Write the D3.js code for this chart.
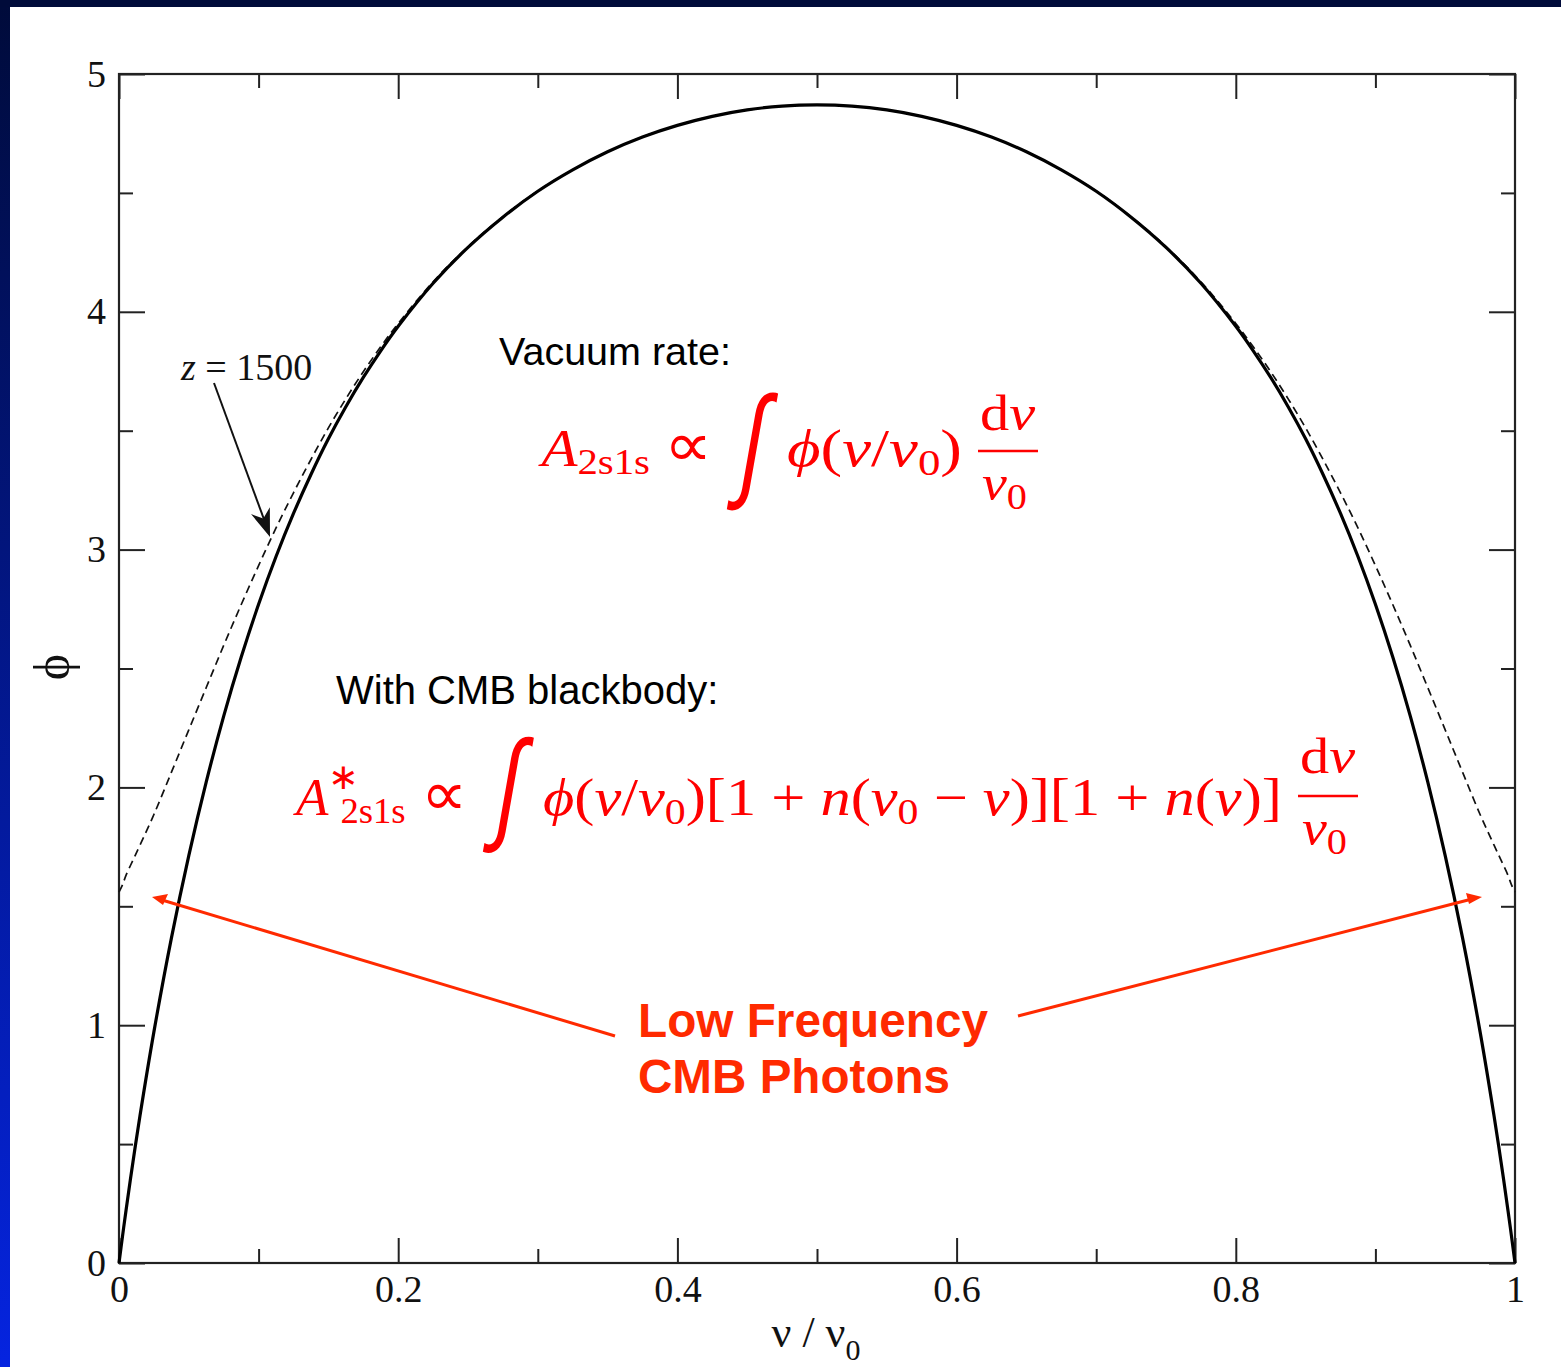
<!DOCTYPE html>
<html>
<head>
<meta charset="utf-8">
<script src="https://cdn.jsdelivr.net/npm/d3@7"></script>
<style>
  html, body { margin: 0; padding: 0; background: #fff; }
  svg { display: block; }
</style>
</head>
<body>
<svg id="chart" width="1561" height="1367"></svg>
<script>
// Two-photon 2s->1s emission profile phi(nu/nu0)
const nuRatio = [0, 0.0025, 0.005, 0.01, 0.015, 0.025, 0.0375, 0.05, 0.0625, 0.075, 0.0875, 0.1, 0.1125, 0.125,
  0.1375, 0.15, 0.1625, 0.175, 0.1875, 0.2, 0.225, 0.25, 0.275, 0.3, 0.325, 0.35, 0.375, 0.4, 0.425, 0.45, 0.475,
  0.5,
  0.525, 0.55, 0.575, 0.6, 0.625, 0.65, 0.675, 0.7, 0.725, 0.75, 0.775, 0.8, 0.8125, 0.825, 0.8375, 0.85, 0.8625,
  0.875, 0.8875, 0.9, 0.9125, 0.925, 0.9375, 0.95, 0.9625, 0.975, 0.985, 0.99, 0.995, 0.9975, 1];
// vacuum profile (solid)
const phiVacuum = [0, 0.112, 0.220, 0.425, 0.618, 0.972, 1.365, 1.713, 2.023, 2.300, 2.547, 2.770, 2.971, 3.152,
  3.316, 3.466, 3.601, 3.724, 3.836, 3.939, 4.120, 4.271, 4.398, 4.507, 4.597, 4.673, 4.735, 4.784, 4.822, 4.849,
  4.865,
  4.870,
  4.865, 4.849, 4.822, 4.784, 4.735, 4.673, 4.597, 4.507, 4.398, 4.271, 4.120, 3.939, 3.836, 3.724, 3.601, 3.466,
  3.316, 3.152, 2.971, 2.770, 2.547, 2.300, 2.023, 1.713, 1.365, 0.972, 0.618, 0.425, 0.220, 0.112, 0];
// profile with stimulated emission by the CMB blackbody at z = 1500 (dashed)
const phiCMB = [1.560, 1.590, 1.630, 1.694, 1.757, 1.886, 2.063, 2.242, 2.420, 2.597, 2.768, 2.933, 3.091, 3.239,
  3.379, 3.512, 3.634, 3.748, 3.853, 3.951, 4.126, 4.274, 4.400, 4.508, 4.597, 4.673, 4.735, 4.784, 4.822, 4.849,
  4.865,
  4.870,
  4.865, 4.849, 4.822, 4.784, 4.735, 4.673, 4.597, 4.508, 4.400, 4.274, 4.126, 3.951, 3.853, 3.748, 3.634, 3.512,
  3.379, 3.239, 3.091, 2.933, 2.768, 2.597, 2.420, 2.242, 2.063, 1.886, 1.757, 1.694, 1.630, 1.590, 1.560];

const xMajorTicks = [0, 0.2, 0.4, 0.6, 0.8, 1];
const xMinorTicks = [0.1, 0.3, 0.5, 0.7, 0.9];
const yMajorTicks = [0, 1, 2, 3, 4, 5];
const yMinorTicks = [0.5, 1.5, 2.5, 3.5, 4.5];

const svg = d3.select("#chart");
const W = 1561, H = 1367;

// slide frame: dark top band, blue gradient strip on the left
const defs = svg.append("defs");
const grad = defs.append("linearGradient").attr("id", "sideGrad")
  .attr("x1", 0).attr("y1", 0).attr("x2", 0).attr("y2", 1);
grad.append("stop").attr("offset", "0%").attr("stop-color", "#000b3a");
grad.append("stop").attr("offset", "100%").attr("stop-color", "#0524e0");
svg.append("rect").attr("x", 0).attr("y", 0).attr("width", W).attr("height", H).attr("fill", "#ffffff");
svg.append("rect").attr("x", 0).attr("y", 0).attr("width", 10).attr("height", H).attr("fill", "url(#sideGrad)");
svg.append("rect").attr("x", 0).attr("y", 0).attr("width", W).attr("height", 7).attr("fill", "#000b3a");

const plotLeft = 119, plotRight = 1515, plotTop = 74, plotBottom = 1263;
const x = d3.scaleLinear().domain([0, 1]).range([plotLeft, plotRight]);
const y = d3.scaleLinear().domain([0, 5]).range([plotBottom, plotTop]);

const axisColor = "#222";
const tickFont = "'Liberation Serif', 'Times New Roman', serif";

function styleAxis(g) {
  g.select(".domain").remove();
  g.selectAll(".tick line").attr("stroke", axisColor).attr("stroke-width", 2);
  g.selectAll("text").attr("font-family", tickFont).attr("font-size", 38).attr("fill", "#111");
}

// inward ticks on all four sides
svg.append("g").attr("transform", `translate(0,${plotBottom})`)
  .call(d3.axisBottom(x).tickValues(xMajorTicks).tickSize(-25).tickPadding(12).tickFormat(d3.format("~g")))
  .call(styleAxis);
svg.append("g").attr("transform", `translate(0,${plotBottom})`)
  .call(d3.axisBottom(x).tickValues(xMinorTicks).tickSize(-14).tickFormat(""))
  .call(styleAxis);
svg.append("g").attr("transform", `translate(0,${plotTop})`)
  .call(d3.axisTop(x).tickValues(xMajorTicks).tickSize(-25).tickFormat(""))
  .call(styleAxis);
svg.append("g").attr("transform", `translate(0,${plotTop})`)
  .call(d3.axisTop(x).tickValues(xMinorTicks).tickSize(-14).tickFormat(""))
  .call(styleAxis);
svg.append("g").attr("transform", `translate(${plotLeft},0)`)
  .call(d3.axisLeft(y).tickValues(yMajorTicks).tickSize(-26).tickPadding(13).tickFormat(d3.format("d")))
  .call(styleAxis);
svg.append("g").attr("transform", `translate(${plotLeft},0)`)
  .call(d3.axisLeft(y).tickValues(yMinorTicks).tickSize(-14).tickFormat(""))
  .call(styleAxis);
svg.append("g").attr("transform", `translate(${plotRight},0)`)
  .call(d3.axisRight(y).tickValues(yMajorTicks).tickSize(-26).tickFormat(""))
  .call(styleAxis);
svg.append("g").attr("transform", `translate(${plotRight},0)`)
  .call(d3.axisRight(y).tickValues(yMinorTicks).tickSize(-14).tickFormat(""))
  .call(styleAxis);

// frame
svg.append("rect").attr("x", plotLeft).attr("y", plotTop)
  .attr("width", plotRight - plotLeft).attr("height", plotBottom - plotTop)
  .attr("fill", "none").attr("stroke", axisColor).attr("stroke-width", 2.2);

// curves
const line = d3.line().curve(d3.curveCatmullRom.alpha(0.5));
const solidPts = nuRatio.map((v, i) => [x(v), y(phiVacuum[i])]);
const dashPts = nuRatio.map((v, i) => [x(v), y(phiCMB[i])]);
svg.append("path").attr("d", line(dashPts)).attr("fill", "none")
  .attr("stroke", "#111").attr("stroke-width", 1.7).attr("stroke-dasharray", "8,5");
svg.append("path").attr("d", line(solidPts)).attr("fill", "none")
  .attr("stroke", "#000").attr("stroke-width", 3.2);

// axis titles
svg.append("text").attr("transform", "translate(52,667) rotate(-90)")
  .attr("text-anchor", "middle").attr("dominant-baseline", "central")
  .attr("font-family", tickFont).attr("font-size", 50).attr("fill", "#111").text("ϕ");
const xt = svg.append("text").attr("x", 816).attr("y", 1347).attr("text-anchor", "middle")
  .attr("font-family", tickFont).attr("font-size", 44).attr("fill", "#111");
xt.append("tspan").text("ν / ν");
xt.append("tspan").attr("font-size", 30).attr("dy", 13).text("0");

// z = 1500 annotation
const zl = svg.append("text").attr("x", 181).attr("y", 380).attr("font-family", tickFont)
  .attr("font-size", 38).attr("fill", "#111");
zl.append("tspan").attr("font-style", "italic").text("z");
zl.append("tspan").text(" = 1500");
function arrowHead(g, x0, y0, x1, y1, len, half, color) {
  const a = Math.atan2(y1 - y0, x1 - x0);
  const ux = Math.cos(a), uy = Math.sin(a);
  const bx = x1 - ux * len, by = y1 - uy * len;
  const nx = x1 - ux * len * 0.7, ny = y1 - uy * len * 0.7;
  g.append("path").attr("d",
    `M${x1},${y1} L${bx - uy * half},${by + ux * half} L${nx},${ny} L${bx + uy * half},${by - ux * half} Z`)
    .attr("fill", color);
}
svg.append("line").attr("x1", 214).attr("y1", 383).attr("x2", 269).attr("y2", 533)
  .attr("stroke", "#111").attr("stroke-width", 2);
arrowHead(svg, 214, 383, 270, 537, 28, 10, "#111");

// descriptive labels
const sans = "'Liberation Sans', Arial, Helvetica, sans-serif";
svg.append("text").attr("x", 499).attr("y", 365).attr("font-family", sans).attr("font-size", 39.5)
  .attr("fill", "#000").text("Vacuum rate:");
svg.append("text").attr("x", 336).attr("y", 704).attr("font-family", sans).attr("font-size", 40)
  .attr("fill", "#000").text("With CMB blackbody:");

// equation helpers
const red = "#ff0000";
const mathFont = "'Liberation Serif', 'Times New Roman', serif";
function mathText(parent, size, italic) {
  return parent.append("text").attr("font-family", mathFont).attr("font-size", size)
    .attr("font-style", italic ? "italic" : "normal").attr("fill", red);
}
// stretch a piece horizontally so it spans x0..x1 on baseline yb
function fitX(sel, x0, x1, yb) {
  sel.attr("x", 0).attr("y", 0);
  const b = sel.node().getBBox();
  const s = (x1 - x0) / b.width;
  sel.attr("transform", `translate(${x0 - b.x * s},${yb}) scale(${s},1)`);
}
// stretch a glyph to fill a box, slanted like a display integral
function fitBox(sel, x0, y0, x1, y1, skew) {
  sel.attr("x", 0).attr("y", 0);
  const b = sel.node().getBBox();
  const sx = (x1 - x0) / b.width, sy = (y1 - y0) / b.height;
  sel.attr("transform",
    `translate(${x0 - b.x * sx},${y0 - b.y * sy}) skewX(${skew}) scale(${sx},${sy})`);
}
function integral(parent, x0, y0, x1, y1) {
  const t = parent.append("text").attr("font-family", "'Liberation Sans', sans-serif")
    .attr("font-size", 60).attr("fill", red).text("∫");
  fitBox(t, x0, y0, x1, y1, -10);
}
function symbolA(parent) {
  const t = mathText(parent, 52, false);
  t.append("tspan").attr("font-style", "italic").text("A");
  return t;
}

// vacuum rate equation
const eq = svg.append("g");
const a1 = symbolA(eq);
a1.append("tspan").attr("font-size", 36).attr("dy", 8).text("2s1s");
fitX(a1, 538, 650, 466);
const p1 = mathText(eq, 62, false); p1.text("∝"); fitX(p1, 664, 712, 466);
integral(eq, 731, 372, 763, 511);
const m1 = mathText(eq, 52, false);
m1.append("tspan").attr("font-style", "italic").text("ϕ");
m1.append("tspan").text("(");
m1.append("tspan").attr("font-style", "italic").text("ν");
m1.append("tspan").text("/");
m1.append("tspan").attr("font-style", "italic").text("ν");
m1.append("tspan").attr("font-size", 36).attr("dy", 9).text("0");
m1.append("tspan").attr("dy", -9).text(")");
fitX(m1, 787, 962, 466);
const n1 = mathText(eq, 50, false);
n1.append("tspan").text("d"); n1.append("tspan").attr("font-style", "italic").text("ν");
fitX(n1, 980, 1036, 430);
eq.append("line").attr("x1", 978).attr("x2", 1038).attr("y1", 451).attr("y2", 451)
  .attr("stroke", red).attr("stroke-width", 2.4);
const d1 = mathText(eq, 50, false);
d1.append("tspan").attr("font-style", "italic").text("ν");
d1.append("tspan").attr("font-size", 36).attr("dy", 9).text("0");
fitX(d1, 982, 1027, 500);

// equation with CMB stimulated emission
const eq2 = svg.append("g");
const a2 = symbolA(eq2);
a2.append("tspan").attr("font-size", 36).attr("dy", -26).text("∗");
a2.append("tspan").attr("font-size", 36).attr("dx", -18).attr("dy", 34).text("2s1s");
fitX(a2, 293, 406, 815);
const p2 = mathText(eq2, 62, false); p2.text("∝"); fitX(p2, 421, 467, 815);
integral(eq2, 487, 717, 519, 854);
const m2 = mathText(eq2, 52, false);
m2.append("tspan").attr("font-style", "italic").text("ϕ");
m2.append("tspan").text("(");
m2.append("tspan").attr("font-style", "italic").text("ν");
m2.append("tspan").text("/");
m2.append("tspan").attr("font-style", "italic").text("ν");
m2.append("tspan").attr("font-size", 36).attr("dy", 9).text("0");
m2.append("tspan").attr("dy", -9).text(")[1 + ");
m2.append("tspan").attr("font-style", "italic").text("n");
m2.append("tspan").text("(");
m2.append("tspan").attr("font-style", "italic").text("ν");
m2.append("tspan").attr("font-size", 36).attr("dy", 9).text("0");
m2.append("tspan").attr("dy", -9).text(" − ");
m2.append("tspan").attr("font-style", "italic").text("ν");
m2.append("tspan").text(")][1 + ");
m2.append("tspan").attr("font-style", "italic").text("n");
m2.append("tspan").text("(");
m2.append("tspan").attr("font-style", "italic").text("ν");
m2.append("tspan").text(")]");
fitX(m2, 543, 1282, 815);
const n2 = mathText(eq2, 50, false);
n2.append("tspan").text("d"); n2.append("tspan").attr("font-style", "italic").text("ν");
fitX(n2, 1300, 1356, 773);
eq2.append("line").attr("x1", 1298).attr("x2", 1358).attr("y1", 796).attr("y2", 796)
  .attr("stroke", red).attr("stroke-width", 2.4);
const d2 = mathText(eq2, 50, false);
d2.append("tspan").attr("font-style", "italic").text("ν");
d2.append("tspan").attr("font-size", 36).attr("dy", 9).text("0");
fitX(d2, 1302, 1347, 845);

// low-frequency photon callout
const orange = "#ff2a00";
svg.append("text").attr("x", 638).attr("y", 1037).attr("font-family", sans).attr("font-weight", "bold")
  .attr("font-size", 48).attr("fill", orange).attr("textLength", 350).attr("lengthAdjust", "spacingAndGlyphs")
  .text("Low Frequency");
svg.append("text").attr("x", 638).attr("y", 1093).attr("font-family", sans).attr("font-weight", "bold")
  .attr("font-size", 48).attr("fill", orange).attr("textLength", 312).attr("lengthAdjust", "spacingAndGlyphs")
  .text("CMB Photons");
svg.append("line").attr("x1", 615).attr("y1", 1036).attr("x2", 162).attr("y2", 900)
  .attr("stroke", orange).attr("stroke-width", 3);
svg.append("path").attr("d", "M152,897 L168,894 L163,905 Z").attr("fill", orange);
svg.append("line").attr("x1", 1018).attr("y1", 1016).attr("x2", 1472).attr("y2", 899)
  .attr("stroke", orange).attr("stroke-width", 3);
svg.append("path").attr("d", "M1482,897 L1466,893 L1469,904 Z").attr("fill", orange);
</script>
</body>
</html>
